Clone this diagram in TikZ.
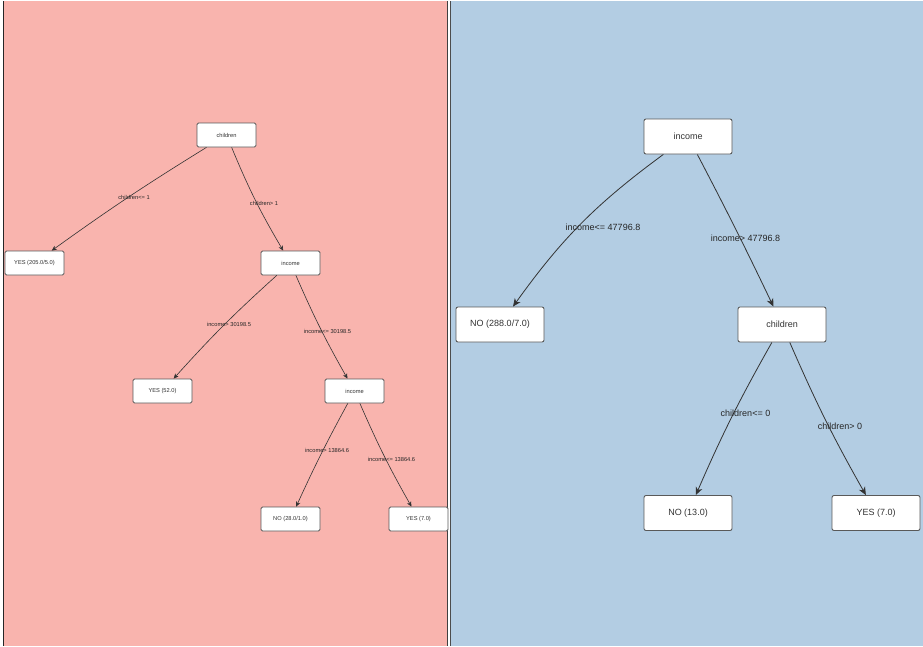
\documentclass[tikz,border=0pt]{standalone}
\usepackage{fontspec}
\setmainfont{Liberation Sans}
\usetikzlibrary{arrows.meta}
\definecolor{pinkbg}{HTML}{F9B4AE}
\definecolor{bluebg}{HTML}{B3CDE3}
\definecolor{edgecol}{HTML}{333333}
\begin{document}
\begin{tikzpicture}[x=1pt,y=-1pt,
  smallbox/.style={draw=black!65, line width=0.8pt, fill=white, rounded corners=1.5pt,
    minimum width=59pt, minimum height=24pt, inner sep=0pt, font=\fontsize{5.7}{6}\selectfont, text=edgecol},
  bigbox/.style={draw=black!65, line width=0.9pt, fill=white, rounded corners=2pt,
    minimum width=88pt, minimum height=35pt, inner sep=0pt, font=\fontsize{9}{10}\selectfont, text=edgecol},
  smalllbl/.style={inner sep=0pt, font=\fontsize{5.7}{6}\selectfont, text=black!85},
  biglbl/.style={inner sep=0pt, font=\fontsize{9}{10}\selectfont, text=black!85},
  smalledge/.style={draw=edgecol, line width=0.6pt, -{Stealth[length=5pt,width=4.5pt,inset=1.5pt]}},
  bigedge/.style={draw=edgecol, line width=0.8pt, -{Stealth[length=8pt,width=7pt,inset=2.5pt]}}
]
\useasboundingbox (0,0) rectangle (923,646);
\fill[white] (0,0) rectangle (923,646);
\fill[pinkbg] (4,1) rectangle (447,646);
\fill[bluebg] (451,1) rectangle (923,646);
\draw[black!85, line width=1pt] (3.5,1) -- (3.5,646);
\draw[black!75, line width=1.5pt] (447.5,1) -- (447.5,646);
\draw[black!70, line width=0.8pt] (450.8,1) -- (450.8,646);

% ---- left tree ----
\node[smallbox] (Lchildren) at (226.5,135) {children};
\node[smallbox] (Lyes205) at (34.5,263) {YES (205.0/5.0)};
\node[smallbox] (Lincome) at (290.5,263) {income};
\node[smallbox] (Lyes52) at (162.5,391) {YES (52.0)};
\node[smallbox] (Lincome2) at (354.5,391) {income};
\node[smallbox] (Lno28) at (290.5,519) {NO (28.0/1.0)};
\node[smallbox] (Lyes7) at (418.5,519) {YES (7.0)};

\draw[smalledge] (Lchildren) to[bend right=2] (Lyes205);
\draw[smalledge] (Lchildren) to[bend right=4] (Lincome);
\draw[smalledge] (Lincome) to[bend right=3] (Lyes52);
\draw[smalledge] (Lincome) to[bend right=3] (Lincome2);
\draw[smalledge] (Lincome2) to[bend right=2] (Lno28);
\draw[smalledge] (Lincome2) to[bend right=3] (Lyes7);

\node[smalllbl] (l1) at (134,197) {children<= 1};
\node[smalllbl] (l2) at (264,203) {children> 1};
\node[smalllbl] (l3) at (229,324) {income> 30198.5};
\node[smalllbl] (l4) at (327.5,331) {income<= 30198.5};
\node[smalllbl] (l5) at (327,450) {income> 13864.6};
\node[smalllbl] (l6) at (391.5,459) {income<= 13864.6};

% ---- right tree ----
\node[bigbox] (Rincome) at (688,136.5) {income};
\node[bigbox] (Rno288) at (500,324.5) {NO (288.0/7.0)};
\node[bigbox] (Rchildren) at (782,324.5) {children};
\node[bigbox] (Rno13) at (688,513) {NO (13.0)};
\node[bigbox] (Ryes7) at (876,513) {YES (7.0)};

\draw[bigedge] (Rincome) to[bend right=9] (Rno288);
\draw[bigedge] (Rincome) to[bend left=1] (Rchildren);
\draw[bigedge] (Rchildren) to[bend right=3] (Rno13);
\draw[bigedge] (Rchildren) to[bend right=3] (Ryes7);

\node[biglbl] (r1) at (603,227) {income<= 47796.8};
\node[biglbl] (r2) at (745.5,238) {income> 47796.8};
\node[biglbl] (r3) at (745.5,413) {children<= 0};
\node[biglbl] (r4) at (840,426) {children> 0};
\end{tikzpicture}
\end{document}
